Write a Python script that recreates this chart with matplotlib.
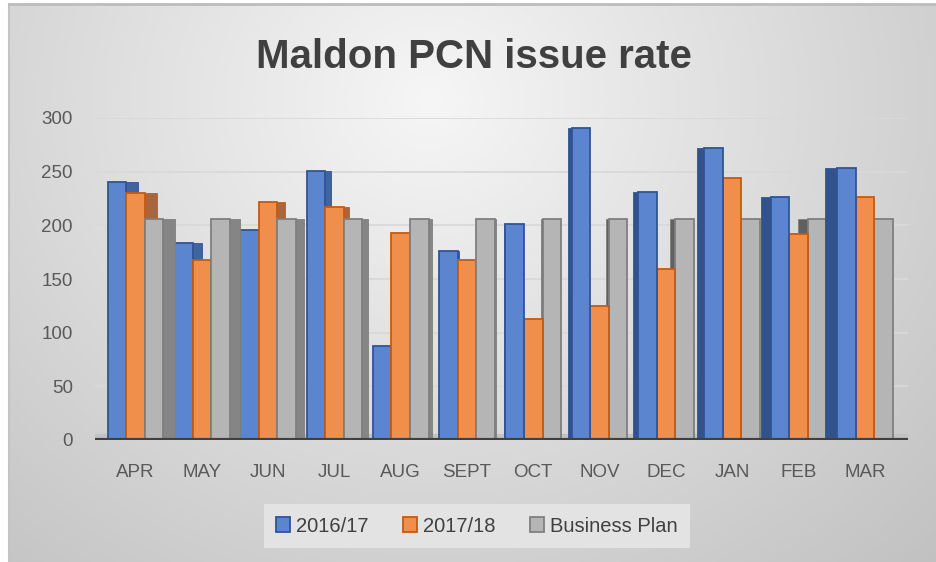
import numpy as np
import matplotlib.pyplot as plt
from matplotlib.patches import Patch

plt.rcParams.update({
    'font.family': ['Liberation Sans', 'DejaVu Sans'],
})

months = ['APR', 'MAY', 'JUN', 'JUL', 'AUG', 'SEPT', 'OCT', 'NOV', 'DEC', 'JAN', 'FEB', 'MAR']
s2016 = [240, 184, 196, 251, 88, 176, 201, 291, 231, 272, 226, 253]
s2017 = [230, 168, 222, 217, 193, 168, 113, 125, 159, 244, 192, 226]
plan = [206, 206, 206, 206, 206, 206, 206, 206, 206, 206, 206, 206]
labels = ['2016/17', '2017/18', 'Business Plan']

W, H = 937, 562
fig = plt.figure(figsize=(W / 100, H / 100), dpi=100)

# background: soft radial grey fill like the excel chart area
yy, xx = np.mgrid[0:H, 0:W]
d = np.sqrt(((xx - 430) / 1.0) ** 2 + ((yy - 100) * 1.1) ** 2)
v = (246 - 48 * np.clip(d / 650, 0, 1.2)) / 255.0
img = np.dstack([v, v, v])
img[:, :9] = 1.0
img[:4, :] = 1.0
bg = fig.add_axes([0, 0, 1, 1])
bg.imshow(img, extent=(0, W, H, 0), aspect='auto', interpolation='bilinear')
bg.plot([9, 9], [4, H], color='#c4c4c4', lw=1.5)
bg.plot([9, W], [4, 4], color='#bcbcbc', lw=2)
bg.set_xlim(0, W)
bg.set_ylim(H, 0)
bg.axis('off')

# plot area
x0, x1, ytop, ybot = 95, 908, 118, 440
ax = fig.add_axes([x0 / W, 1 - ybot / H, (x1 - x0) / W, (ybot - ytop) / H])
ax.patch.set_alpha(0)
px = 66.3  # pixels per category
ax.set_xlim(-(135.5 - x0) / px, (x1 - 135.5) / px)
ax.set_ylim(0, 300)

fronts = ['#5b86cf', '#f08f4b', '#b5b5b5']
edges = ['#2f5597', '#c55a11', '#7f7f7f']
sides_r = ['#40649f', '#a8653e', '#858585']
sides_l = ['#34528a', '#9a5a30', '#606060']
series = [s2016, s2017, plan]

bw = 0.28
offs = [-bw, 0, bw]
x = np.arange(len(months))
for i in range(len(months)):
    depth = (5.5 - i) * 2.2 / px
    order = [0, 1, 2] if depth > 0 else [2, 1, 0]
    z = 3
    for k in order:
        xc = x[i] + offs[k]
        h = series[k][i]
        if depth > 0:
            ax.bar(xc + bw / 2, h, width=depth, align='edge', color=sides_r[k],
                   edgecolor=edges[k], lw=0.6, zorder=z)
        else:
            ax.bar(xc - bw / 2 + depth, h, width=-depth, align='edge', color=sides_l[k],
                   edgecolor=edges[k], lw=0.6, zorder=z)
        ax.bar(xc, h, width=bw, color=fronts[k], edgecolor=edges[k], lw=1.3, zorder=z + 1)
        z += 2

# floor and baseline
ax.axhspan(0, 6, color='#c2c2c2', zorder=2)
ax.axhline(0, color='#404040', lw=3, zorder=30)

ax.set_yticks(np.arange(0, 301, 50))
ax.yaxis.grid(True, color='#d9d9d9', lw=1.3)
ax.set_axisbelow(True)
ax.set_xticks(x)
ax.set_xticklabels(months)
ax.tick_params(axis='both', length=0, labelsize=13.5, labelcolor='#595959')
ax.tick_params(axis='x', pad=17)
ax.tick_params(axis='y', pad=16)
for s in ax.spines.values():
    s.set_visible(False)

fig.text(474 / W, 1 - 57 / H, 'Maldon PCN issue rate', ha='center', va='center',
         fontsize=29, fontweight='bold', color='#404040')

handles = [Patch(facecolor=fronts[k], edgecolor=edges[k], lw=1.3) for k in range(3)]
leg = fig.legend(handles, labels, loc='center', bbox_to_anchor=(477 / W, 1 - 526 / H),
                 ncol=3, frameon=True, fancybox=False, facecolor='#e3e3e3', edgecolor='none',
                 fontsize=14.5, handlelength=0.7, handleheight=0.7, handletextpad=0.3,
                 columnspacing=1.7, borderpad=0.6, borderaxespad=0)
leg.get_frame().set_alpha(1)
for t in leg.get_texts():
    t.set_color('#404040')

fig.savefig('out.png', dpi=100)
